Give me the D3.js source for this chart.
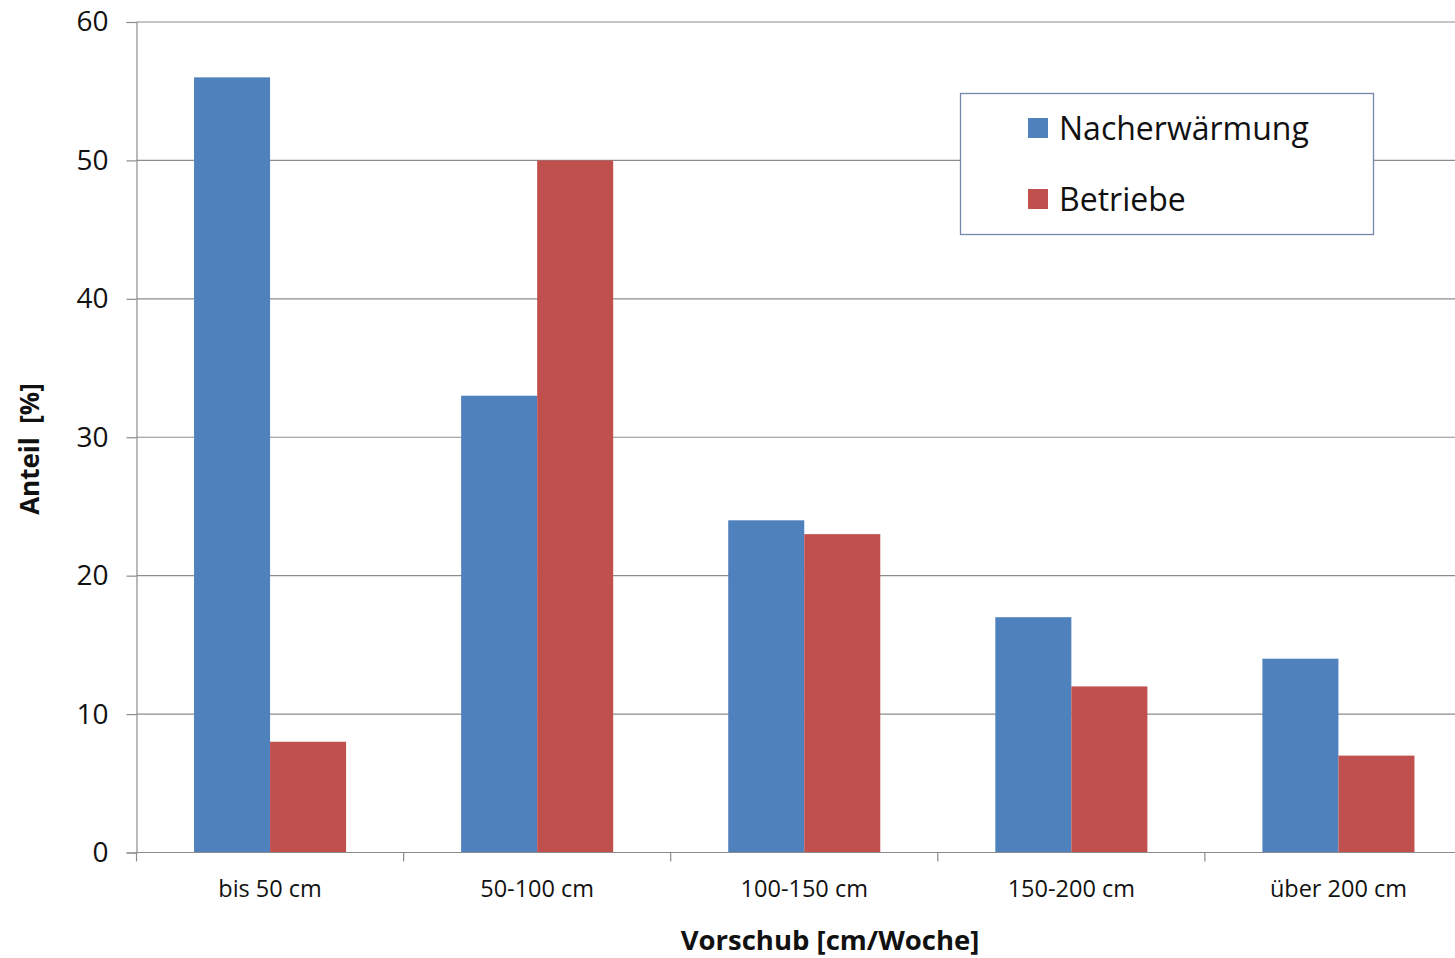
<!DOCTYPE html>
<html>
<head>
<meta charset="utf-8">
<script src="https://cdn.jsdelivr.net/npm/d3@7"></script>
<style>
  html, body { margin: 0; padding: 0; background: #fff; }
  svg { display: block; font-family: "Open Sans", "Noto Sans", sans-serif; }
</style>
</head>
<body>
<svg id="chart" width="1455" height="958"></svg>
<script>
// Anteil je Vorschubklasse
const categories = ["bis 50 cm", "50-100 cm", "100-150 cm", "150-200 cm", "über 200 cm"];
const seriesNames = ["Nacherwärmung", "Betriebe"];
const nacherwaermung = [56, 33, 24, 17, 14];
const betriebe = [8, 50, 23, 12, 7];
const yTicks = [0, 10, 20, 30, 40, 50, 60];
const colors = ["#4F81BD", "#C0504D"];

const seriesValues = [nacherwaermung, betriebe];

const svg = d3.select("#chart");
const plotLeft = 136.5, plotRight = 1472, plotTop = 22, plotBottom = 852.5;

const y = d3.scaleLinear().domain([0, 60]).range([plotBottom, plotTop]);

const x0 = d3.scaleBand()
  .domain(categories)
  .range([plotLeft, plotRight])
  .paddingInner(0.4307)
  .paddingOuter(0.2154);

const x1 = d3.scaleBand()
  .domain(seriesNames)
  .range([0, x0.bandwidth()])
  .padding(0);

// horizontal gridlines
svg.append("g")
  .selectAll("line")
  .data(yTicks.filter(d => d > 0))
  .join("line")
  .attr("x1", plotLeft).attr("x2", plotRight)
  .attr("y1", d => y(d)).attr("y2", d => y(d))
  .attr("stroke", "#8c8c8c").attr("stroke-width", 1.2);

// bars
const groups = svg.append("g")
  .selectAll("g")
  .data(categories)
  .join("g")
  .attr("transform", d => `translate(${x0(d)},0)`);

groups.selectAll("rect")
  .data((c, i) => seriesNames.map((s, j) => ({ s, v: seriesValues[j][i], j })))
  .join("rect")
  .attr("x", d => x1(d.s))
  .attr("width", x1.bandwidth())
  .attr("y", d => y(d.v))
  .attr("height", d => y(0) - y(d.v))
  .attr("fill", d => colors[d.j]);

// y axis
const yAxis = d3.axisLeft(y).tickValues(yTicks).tickSize(10).tickPadding(18);
const gy = svg.append("g").attr("transform", `translate(${plotLeft},0)`).call(yAxis);
gy.select(".domain").attr("stroke", "#8c8c8c").attr("stroke-width", 1.2);
gy.selectAll(".tick line").attr("stroke", "#8c8c8c").attr("stroke-width", 1.2);
gy.selectAll(".tick text")
  .attr("font-size", 28).attr("fill", "#111")
  .attr("font-family", "'Open Sans', sans-serif");

// x axis: ticks at category boundaries
const boundaries = categories.map(c => x0(c) - x0.step() * x0.paddingInner() / 2);
const gx = svg.append("g");
gx.append("line")
  .attr("x1", plotLeft).attr("x2", plotRight)
  .attr("y1", plotBottom).attr("y2", plotBottom)
  .attr("stroke", "#8c8c8c").attr("stroke-width", 1.2);
gx.selectAll("line.tk")
  .data(boundaries)
  .join("line")
  .attr("class", "tk")
  .attr("x1", d => d).attr("x2", d => d)
  .attr("y1", plotBottom).attr("y2", plotBottom + 9)
  .attr("stroke", "#8c8c8c").attr("stroke-width", 1.2);
gx.selectAll("text")
  .data(categories)
  .join("text")
  .attr("x", d => x0(d) + x0.bandwidth() / 2)
  .attr("y", 897)
  .attr("text-anchor", "middle")
  .attr("font-size", 23.5)
  .attr("fill", "#111")
  .text(d => d);

// axis titles
svg.append("text")
  .attr("x", 830).attr("y", 950)
  .attr("text-anchor", "middle")
  .attr("font-size", 27.5).attr("font-weight", "bold")
  .attr("fill", "#111")
  .text("Vorschub [cm/Woche]");

svg.append("text")
  .attr("transform", "translate(39,449) rotate(-90)")
  .attr("text-anchor", "middle")
  .attr("font-size", 26).attr("font-weight", "bold")
  .attr("fill", "#111")
  .attr("xml:space", "preserve")
  .style("white-space", "pre")
  .text("Anteil  [%]");

// legend
const legend = svg.append("g");
legend.append("rect")
  .attr("x", 960.5).attr("y", 93.5)
  .attr("width", 413).attr("height", 141)
  .attr("fill", "#fff")
  .attr("stroke", "#7388a8").attr("stroke-width", 1.3);

const items = legend.selectAll("g.item")
  .data(seriesNames)
  .join("g")
  .attr("class", "item")
  .attr("transform", (d, i) => `translate(1028,${118 + i * 71})`);
items.append("rect")
  .attr("width", 20).attr("height", 20)
  .attr("fill", (d, i) => colors[i]);
items.append("text")
  .attr("x", 31).attr("y", 22)
  .attr("font-size", 32)
  .attr("fill", "#111")
  .text(d => d);
</script>
</body>
</html>
